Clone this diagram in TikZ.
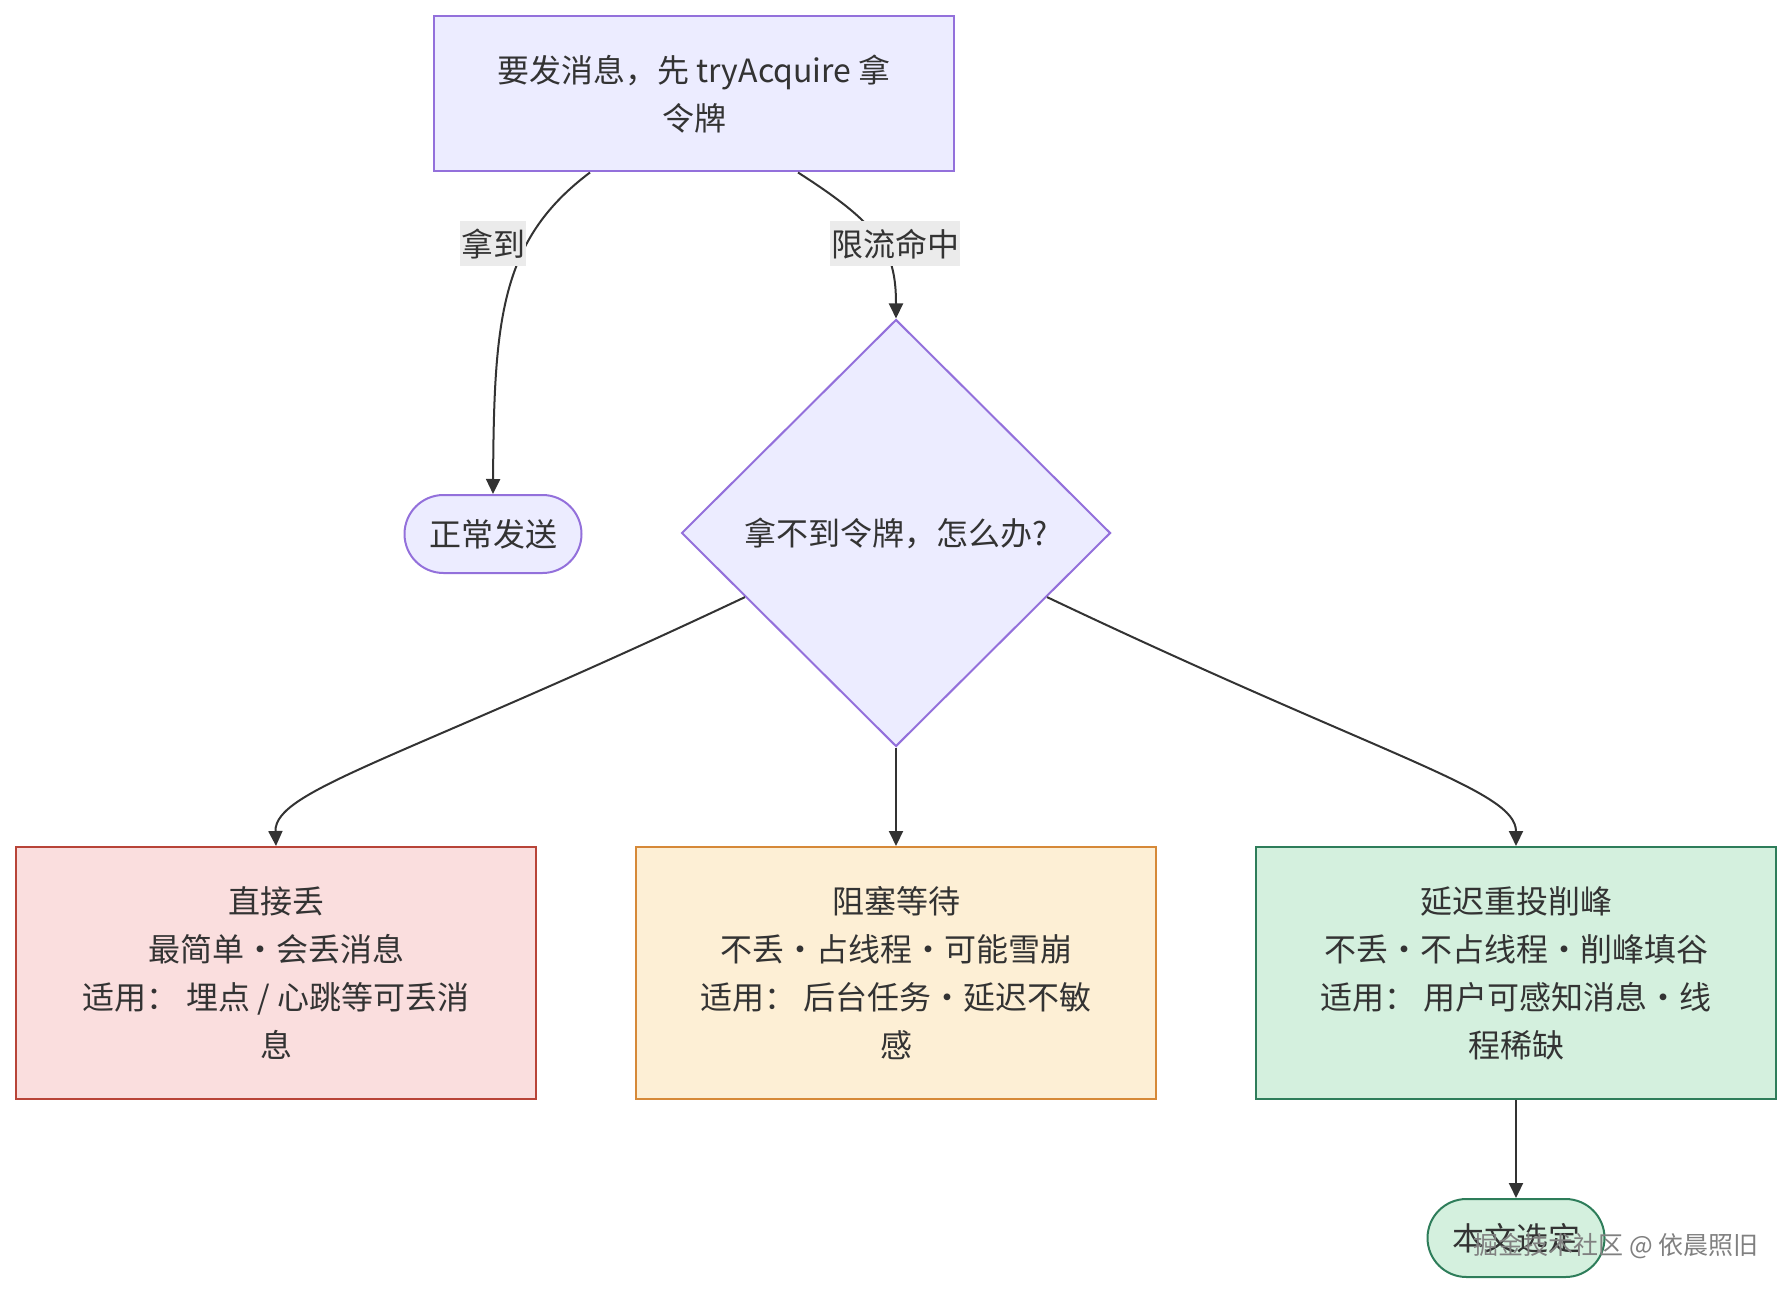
\documentclass[tikz,border=0pt]{standalone}
\usepackage{fontspec}
\newfontfamily\cjk{Noto Sans CJK SC}
\usetikzlibrary{shapes.geometric,arrows.meta}

\definecolor{ink}{HTML}{333333}
\definecolor{mfill}{HTML}{ECECFF}
\definecolor{mline}{HTML}{9370DB}
\definecolor{lblgray}{HTML}{EBEBEB}
\definecolor{dropfill}{HTML}{FADEDE}
\definecolor{dropline}{HTML}{B84438}
\definecolor{waitfill}{HTML}{FDEFD5}
\definecolor{waitline}{HTML}{D68938}
\definecolor{delayfill}{HTML}{D4F0DE}
\definecolor{delayline}{HTML}{2E7D5A}

\begin{document}
\begin{tikzpicture}[
        x=0.5pt, y=-0.5pt,
        font=\cjk\fontsize{16}{24}\selectfont, text=ink,
        box/.style={rectangle, draw=mline, fill=mfill, line width=1pt, minimum width=260pt, minimum height=77.5pt, align=center},
        decision/.style={diamond, aspect=1, draw=mline, fill=mfill, line width=1pt, minimum width=214.5pt, minimum height=213.5pt, inner sep=0pt},
        term/.style={rectangle, rounded corners=19.5pt, line width=1pt, minimum width=88.5pt, minimum height=39pt},
        choice/.style={rectangle, line width=1pt, minimum width=260pt, minimum height=126pt, align=center},
        lbl/.style={fill=lblgray, inner xsep=0.5pt, inner ysep=0pt, minimum height=22.5pt},
        arrow/.style={-{Triangle[length=7.5pt,width=7pt]}, line width=1pt, draw=ink},
        wmark/.style={font=\cjk\fontsize{12.5}{15}\selectfont, text=black!50}
    ]
    \useasboundingbox (0,0) rectangle (1792,1294);

    \node[box] (send) at (694,94) {要发消息，先 tryAcquire 拿\\令牌};
    \node[term, draw=mline, fill=mfill] (ok) at (493,534) {正常发送};
    \node[decision] (dia) at (896,533) {拿不到令牌，怎么办?};

    \node[choice, draw=dropline, fill=dropfill] (drop) at (276,973) {直接丢\\最简单·会丢消息\\适用： 埋点 / 心跳等可丢消\\息};
    \node[choice, draw=waitline, fill=waitfill] (block) at (896,973) {阻塞等待\\不丢·占线程·可能雪崩\\适用： 后台任务·延迟不敏\\感};
    \node[choice, draw=delayline, fill=delayfill] (delay) at (1516,973) {延迟重投削峰\\不丢·不占线程·削峰填谷\\适用： 用户可感知消息·线\\程稀缺};
    \node[term, draw=delayline, fill=delayfill] (chosen) at (1516,1238) {本文选定};

    \draw[arrow] ([xshift=-52pt]send.south) .. controls (500,240) and (494,320) .. (ok.north);
    \draw[arrow] ([xshift=52pt]send.south) .. controls (880,225) and (896,250) .. (dia.north);
    \draw[arrow] (dia.203) .. controls (400,760) and (274,790) .. (drop.north);
    \draw[arrow] (dia.south) -- (block.north);
    \draw[arrow] (dia.-23) .. controls (1390,760) and (1516,790) .. (delay.north);
    \draw[arrow] (delay.south) -- (chosen.north);

    % edge labels sit on top of the lines
    \node[lbl] (lblok) at (493,244) {拿到};
    \node[lbl] (lbllim) at (895,244) {限流命中};

    \node[wmark] (wm) at (1616,1246) {掘金技术社区 @ 依晨照旧};

\end{tikzpicture}
\end{document}
